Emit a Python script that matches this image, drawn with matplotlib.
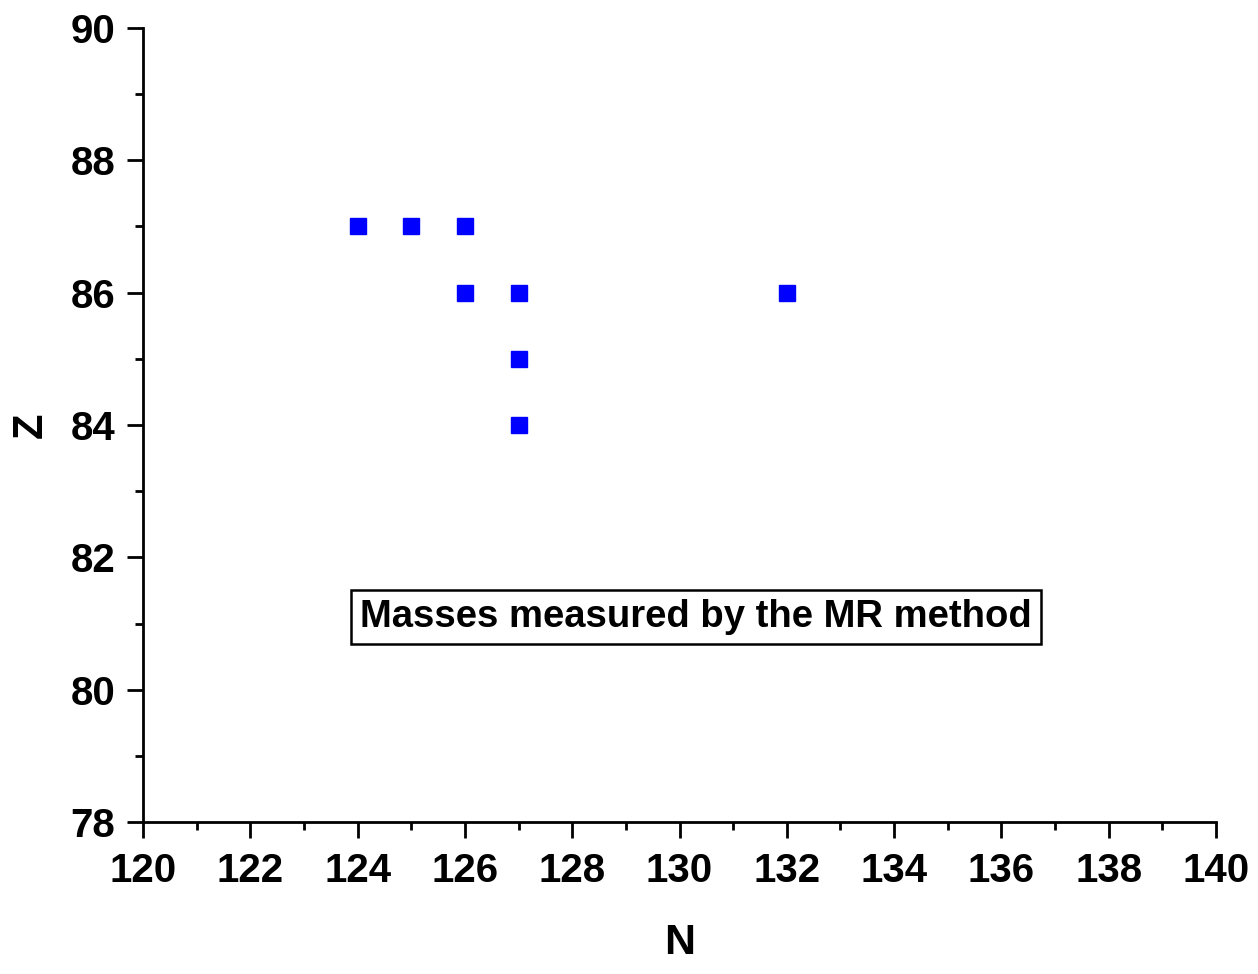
import matplotlib
matplotlib.use("Agg")
import matplotlib.pyplot as plt
from matplotlib.ticker import MultipleLocator

N_vals = [124, 125, 126, 126, 127, 127, 127, 132]
Z_vals = [87, 87, 87, 86, 86, 85, 84, 86]
x_label = "N"
y_label = "Z"
note = "Masses measured by the MR method"

plt.rcParams['font.family'] = ['Liberation Sans', 'DejaVu Sans']
plt.rcParams['font.weight'] = 'bold'

fig = plt.figure(figsize=(12.58, 9.74), dpi=100)
ax = fig.add_axes([0.1137, 0.156, 0.8529, 0.8153])
ax.plot(N_vals, Z_vals, linestyle='none', marker='s', markersize=11.5,
        color='#0000ff', markeredgecolor='#0000ff')

ax.set_xlim(120, 140)
ax.set_ylim(78, 90)
ax.xaxis.set_major_locator(MultipleLocator(2))
ax.xaxis.set_minor_locator(MultipleLocator(1))
ax.yaxis.set_major_locator(MultipleLocator(2))
ax.yaxis.set_minor_locator(MultipleLocator(1))
for s in ['top', 'right']:
    ax.spines[s].set_visible(False)
for s in ['left', 'bottom']:
    ax.spines[s].set_linewidth(2.0)
ax.tick_params(which='major', direction='out', length=11.5, width=2.0,
               labelsize=29)
ax.tick_params(axis='y', which='major', pad=8.5)
ax.tick_params(axis='x', which='major', pad=10)
ax.tick_params(which='minor', direction='out', length=6, width=2.0)
for lab in ax.get_xticklabels() + ax.get_yticklabels():
    lab.set_fontweight('bold')

ax.set_xlabel(x_label, fontsize=31, fontweight='bold', va='center')
ax.set_ylabel(y_label, fontsize=30, fontweight='bold', va='center')
ax.xaxis.set_label_coords(0.5, -0.152)
ax.yaxis.set_label_coords(-0.105, 0.5)

ax.text(130.3, 81.1, note, fontsize=27.5, fontweight='bold', ha='center', va='center',
        bbox=dict(boxstyle='square,pad=0.24', facecolor='white', edgecolor='black', linewidth=1.8))

fig.savefig("out.png", dpi=100)
